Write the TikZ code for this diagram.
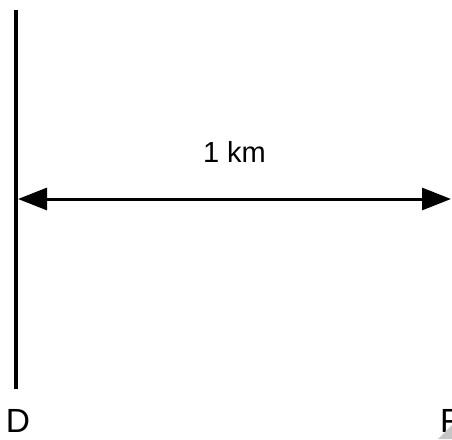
\documentclass[tikz,border=0pt]{standalone}
\usepackage{fontspec}
\setmainfont{Liberation Sans}
\usetikzlibrary{arrows.meta}
\begin{document}
\begin{tikzpicture}[x=1pt,y=-1pt,
  lbl/.style={inner sep=0pt,anchor=base,font=\fontsize{33.5}{36}\selectfont},
  dimline/.style={line width=3pt,{Triangle[length=29pt,width=22pt]}-{Triangle[length=29pt,width=22pt]}},
  wall/.style={line width=4pt}]
\useasboundingbox (0,0) rectangle (452,439);
\clip (0,0) rectangle (452,439);
\coordinate (top) at (16,10);
\coordinate (bot) at (16,389);
\draw[wall] (top) -- (bot);
\coordinate (L) at (18,199);
\coordinate (R) at (451,199);
\draw[dimline] (L) -- (R);
\node[lbl,font=\fontsize{29}{32}\selectfont] (dist) at (234.5,162) {1 km};
\node[lbl] (D) at (18,432) {D};
\node[lbl,anchor=base west] (F) at (440,432) {F};
\fill[gray!45] (438,439) -- (452,425) -- (452,439) -- cycle;
\end{tikzpicture}
\end{document}
